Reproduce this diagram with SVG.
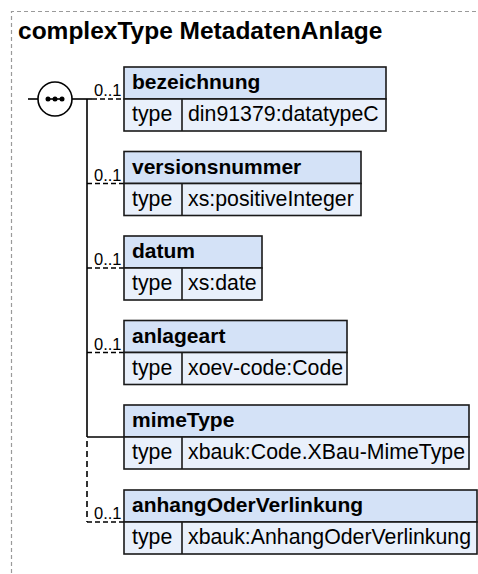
<svg xmlns="http://www.w3.org/2000/svg" width="478" height="574" viewBox="0 0 478 574">
<style>
.frame{fill:none;stroke:#9a9a9a;stroke-width:1.2;stroke-dasharray:4,3}
.title{font-family:"Liberation Sans",Arial,sans-serif;font-size:24.5px;font-weight:bold;fill:#000}
.hd{fill:#d4e2f7;stroke:#1a1a1a;stroke-width:1.6}
.row{fill:#e9f0fb;stroke:#1a1a1a;stroke-width:1.6}
.name{font-family:"Liberation Sans",Arial,sans-serif;font-size:21px;font-weight:bold;fill:#000}
.txt{font-family:"Liberation Sans",Arial,sans-serif;font-size:21.3px;fill:#000}
.occ{font-family:"Liberation Sans",Arial,sans-serif;font-size:16.5px;fill:#000;text-anchor:end}
.solid{fill:none;stroke:#000;stroke-width:1.6}
.dash{fill:none;stroke:#000;stroke-width:1.6;stroke-dasharray:5,3}
.vdash{fill:none;stroke:#000;stroke-width:1.6;stroke-dasharray:6,4}
</style>
<path class="frame" d="M11.5 580 V11.5 H480"/>
<text class="title" x="18" y="39">complexType MetadatenAnlage</text>

<g id="connectors">
  <line class="solid" x1="28" y1="99" x2="38" y2="99"/>
  <line class="solid" x1="72" y1="99" x2="92" y2="99"/>
  <line class="solid" x1="87" y1="99" x2="87" y2="437"/>
  <line class="vdash" x1="87" y1="441" x2="87" y2="522"/>
  <line class="dash" x1="92" y1="99" x2="124" y2="99"/>
  <line class="dash" x1="87" y1="183.5" x2="124" y2="183.5"/>
  <line class="dash" x1="87" y1="268" x2="124" y2="268"/>
  <line class="dash" x1="87" y1="352.5" x2="124" y2="352.5"/>
  <line class="solid" x1="87" y1="437" x2="124" y2="437"/>
  <line class="dash" x1="87" y1="522" x2="124" y2="522"/>
  <text class="occ" x="121.5" y="96">0..1</text>
  <text class="occ" x="121.5" y="180.5">0..1</text>
  <text class="occ" x="121.5" y="265">0..1</text>
  <text class="occ" x="121.5" y="349.5">0..1</text>
  <text class="occ" x="121.5" y="519">0..1</text>
</g>

<g id="sequence">
  <circle cx="55" cy="99" r="17" fill="#fff" stroke="#000" stroke-width="1.6"/>
  <line x1="47" y1="99" x2="63" y2="99" stroke="#000" stroke-width="1.6"/>
  <circle cx="48" cy="99" r="2.5" fill="#000"/>
  <circle cx="55" cy="99" r="2.5" fill="#000"/>
  <circle cx="62" cy="99" r="2.5" fill="#000"/>
</g>

<g id="bezeichnung">
  <rect class="hd" x="124" y="67" width="262" height="32"/>
  <rect class="row" x="124" y="99" width="262" height="32"/>
  <line x1="182" y1="99" x2="182" y2="131" stroke="#1a1a1a" stroke-width="1.6"/>
  <text class="name" x="132" y="89">bezeichnung</text>
  <text class="txt" x="132" y="121">type</text>
  <text class="txt" x="188" y="121">din91379:datatypeC</text>
</g>

<g id="versionsnummer">
  <rect class="hd" x="124" y="151.5" width="237" height="32"/>
  <rect class="row" x="124" y="183.5" width="237" height="32"/>
  <line x1="182" y1="183.5" x2="182" y2="215.5" stroke="#1a1a1a" stroke-width="1.6"/>
  <text class="name" x="132" y="173.5">versionsnummer</text>
  <text class="txt" x="132" y="205.5">type</text>
  <text class="txt" x="188" y="205.5">xs:positiveInteger</text>
</g>

<g id="datum">
  <rect class="hd" x="124" y="236" width="138" height="32"/>
  <rect class="row" x="124" y="268" width="138" height="32"/>
  <line x1="182" y1="268" x2="182" y2="300" stroke="#1a1a1a" stroke-width="1.6"/>
  <text class="name" x="132" y="258">datum</text>
  <text class="txt" x="132" y="290">type</text>
  <text class="txt" x="188" y="290">xs:date</text>
</g>

<g id="anlageart">
  <rect class="hd" x="124" y="320.5" width="223" height="32"/>
  <rect class="row" x="124" y="352.5" width="223" height="32"/>
  <line x1="182" y1="352.5" x2="182" y2="384.5" stroke="#1a1a1a" stroke-width="1.6"/>
  <text class="name" x="132" y="342.5">anlageart</text>
  <text class="txt" x="132" y="374.5">type</text>
  <text class="txt" x="188" y="374.5">xoev-code:Code</text>
</g>

<g id="mimeType">
  <rect class="hd" x="124" y="405" width="345" height="32"/>
  <rect class="row" x="124" y="437" width="345" height="32"/>
  <line x1="182" y1="437" x2="182" y2="469" stroke="#1a1a1a" stroke-width="1.6"/>
  <text class="name" x="132" y="427">mimeType</text>
  <text class="txt" x="132" y="459">type</text>
  <text class="txt" x="188" y="459">xbauk:Code.XBau-MimeType</text>
</g>

<g id="anhangOderVerlinkung">
  <rect class="hd" x="124" y="490" width="353" height="32"/>
  <rect class="row" x="124" y="522" width="353" height="32"/>
  <line x1="182" y1="522" x2="182" y2="554" stroke="#1a1a1a" stroke-width="1.6"/>
  <text class="name" x="132" y="512">anhangOderVerlinkung</text>
  <text class="txt" x="132" y="544">type</text>
  <text class="txt" x="188" y="544">xbauk:AnhangOderVerlinkung</text>
</g>
</svg>
